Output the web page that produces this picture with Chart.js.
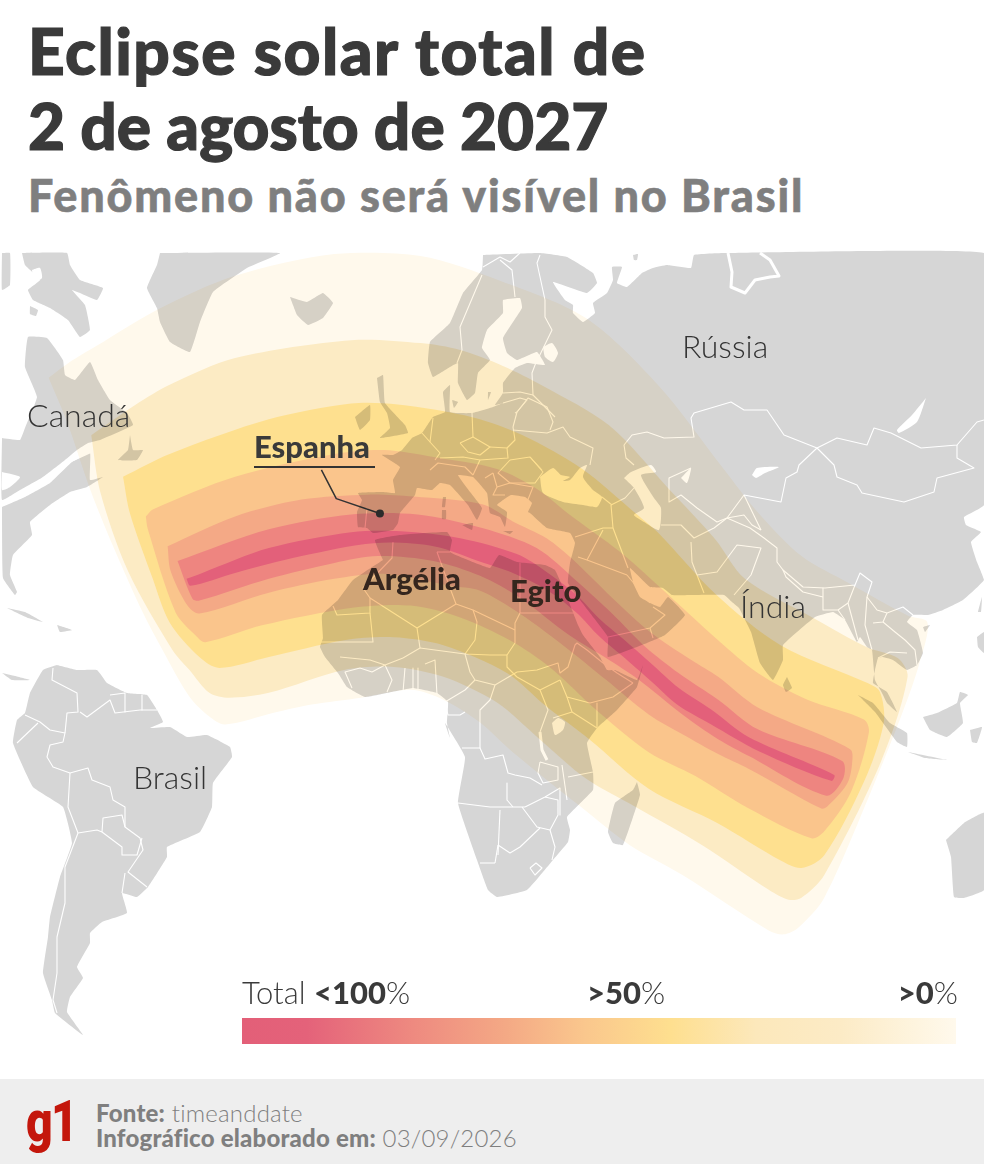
<!DOCTYPE html>
<html lang="pt-BR">
<head>
<meta charset="utf-8">
<title>Eclipse solar total de 2 de agosto de 2027</title>
<script src="https://cdn.jsdelivr.net/npm/chart.js@4"></script>
<style>
    html, body { margin: 0; padding: 0; background: #fff; }
    body { position: relative; width: 984px; height: 1164px; overflow: hidden; font-family: Lato, sans-serif; color: #3a3a3a; }
    .t { position: absolute; white-space: nowrap; line-height: 1; }
    #title { left: 28px; top: 13px; font-size: 64px; font-weight: 900; line-height: 75px; -webkit-text-stroke: 1.2px #3a3a3a; }
    #title span { display: block; }
    #title .one { letter-spacing: 1.5px; }
    #sub { left: 28px; top: 173px; font-size: 45px; font-weight: 900; letter-spacing: 1.8px; color: #7f7f7f; -webkit-text-stroke: .6px #7f7f7f; }
    canvas { position: absolute; left: 0; top: 248px; }
    #bandCanvas { mix-blend-mode: multiply; }
    .c { font-size: 32px; font-weight: 300; color: #333; }
    .b { font-size: 31px; font-weight: 900; color: #35261e; }
    #rule { position: absolute; left: 254px; top: 466px; width: 121px; height: 1.5px; background: #333; }
    #bar { position: absolute; left: 242px; top: 1018px; width: 714px; height: 26px;
        background: linear-gradient(90deg, #e35f78 0%, #e4627a 9%, #ee8a80 24%, #f4a985 37%, #fac78d 48%, #fedf8f 60%, #fce8bb 72%, #fcebc6 84%, #fff9ec 100%); }
    .l { font-size: 31px; font-weight: 300; color: #3a3a3a; top: 977px; }
    .l b { font-weight: 900; }
    #foot { position: absolute; left: 0; top: 1079px; width: 984px; height: 85px; background: #eeeeee; }
    #g1 { left: 26px; top: 1092px; font-family: Roboto, sans-serif; font-size: 58px; font-weight: 900; color: #c4170c; letter-spacing: -2px; transform: scaleX(.8); transform-origin: left top; }
    .f { left: 96px; font-size: 24px; font-weight: 300; letter-spacing: .2px; color: #7f7f7f; }
    .f b { font-weight: 900; }
</style>
</head>
<body>
<div class="t" id="title"><span class="one">Eclipse solar total de</span><span>2 de agosto de 2027</span></div>
<div class="t" id="sub">Fenômeno não será visível no Brasil</div>

<canvas id="landCanvas" width="984" height="830"></canvas>
<canvas id="bandCanvas" width="984" height="830"></canvas>

<div class="t c" style="left:682px;top:330px">Rússia</div>
<div class="t c" style="left:27px;top:399px">Canadá</div>
<div class="t c" style="left:740px;top:590px">Índia</div>
<div class="t c" style="left:133px;top:761px">Brasil</div>
<div class="t b" style="left:254px;top:431px;color:#3a3a3a">Espanha</div>
<div id="rule"></div>
<div class="t b" style="left:363px;top:563px">Argélia</div>
<div class="t b" style="left:510px;top:575px">Egito</div>

<div class="t l" style="left:242px"><span>Total</span> <b>&lt;100</b>%</div>
<div class="t l" style="left:587px"><b>&gt;50</b>%</div>
<div class="t l" style="right:26px"><b>&gt;0</b>%</div>
<div id="bar"></div>

<div id="foot"></div>
<div class="t" id="g1">g1</div>
<div class="t f" style="top:1101px"><b>Fonte:</b> timeanddate</div>
<div class="t f" style="top:1126px"><b>Infográfico elaborado em:</b> 03/09/2026</div>

<script>
/* ================= MAP DATA (map x, map y) ================= */
const eurasia = [[483,255],[540,253],[567,257],[593,273],[597,283],[587,293],[553,282],[565,300],[573,305],[573,313],[583,322],[595,313],[593,303],[607,293],[613,280],[612,267],[622,267],[617,283],[627,287],[642,273],[653,268],[667,265],[691,268],[694,255],[725,253],[984,253],[984,505],[964,517],[966,525],[981,532],[971,542],[977,562],[984,580],[963,600],[943,610],[928,615],[913,615],[907,622],[917,630],[923,653],[917,665],[907,670],[893,660],[883,657],[878,658],[875,670],[873,683],[887,692],[897,712],[887,703],[882,693],[875,680],[872,650],[867,647],[860,637],[857,642],[853,635],[845,620],[833,612],[815,617],[783,645],[783,660],[773,680],[760,663],[751,632],[739,608],[732,602],[724,595],[693,595],[672,595],[663,588],[650,587],[630,568],[634,585],[640,597],[650,603],[660,607],[668,597],[685,615],[665,635],[647,643],[608,657],[608,637],[590,613],[580,600],[568,583],[570,563],[575,543],[570,533],[547,528],[530,513],[528,512],[532,503],[525,497],[511,495],[503,500],[497,505],[507,512],[505,527],[500,517],[490,513],[487,493],[473,477],[458,475],[467,488],[482,508],[477,520],[468,505],[450,485],[440,483],[432,490],[417,488],[415,495],[400,513],[398,523],[393,530],[373,533],[367,528],[358,527],[357,512],[362,500],[358,493],[383,492],[395,493],[393,480],[400,467],[382,455],[393,455],[402,450],[412,438],[422,433],[433,417],[445,412],[443,392],[450,385],[450,412],[472,413],[493,407],[503,403],[495,405],[503,393],[503,383],[515,368],[527,363],[545,365],[537,352],[517,360],[507,353],[503,338],[522,308],[520,298],[503,300],[503,313],[487,330],[482,348],[490,360],[478,373],[475,393],[467,400],[458,383],[458,363],[450,367],[433,377],[428,363],[430,342],[450,323],[463,293],[482,270]];
const africa = [[383,560],[375,540],[400,535],[447,532],[452,540],[450,552],[463,558],[490,568],[499,555],[517,562],[545,565],[555,570],[567,597],[578,625],[583,635],[600,657],[607,670],[615,670],[637,680],[643,665],[637,687],[617,710],[597,728],[587,743],[593,772],[593,790],[567,817],[570,830],[568,842],[553,860],[527,890],[497,897],[488,890],[477,860],[458,803],[465,757],[445,723],[450,738],[447,723],[448,702],[437,693],[413,688],[387,693],[365,697],[347,687],[338,673],[325,657],[320,647],[323,638],[322,615],[338,600],[353,580]];
const southAmerica = [[57,665],[43,670],[30,693],[25,713],[17,720],[13,743],[33,787],[63,807],[72,843],[60,877],[50,917],[48,937],[43,973],[52,1000],[55,1013],[83,1035],[67,1012],[70,997],[83,978],[77,967],[90,943],[90,933],[102,922],[127,913],[122,893],[137,897],[148,887],[167,857],[167,847],[200,832],[212,807],[213,783],[232,757],[230,747],[207,735],[187,737],[170,727],[150,728],[163,722],[157,710],[147,695],[127,693],[107,683],[97,670],[77,670]];
const canadaEast = [[2,438],[20,440],[25,428],[37,397],[25,367],[28,337],[47,338],[63,360],[65,375],[75,380],[90,362],[98,380],[110,400],[127,413],[133,425],[100,440],[88,443],[77,450],[65,460],[43,477],[20,490],[2,500]];
const usaEast = [[2,507],[25,497],[50,483],[72,462],[90,453],[90,480],[103,477],[87,487],[70,492],[50,505],[30,522],[32,535],[13,555],[10,575],[17,592],[15,595],[3,578]];
const baffin = [[22,253],[67,253],[70,265],[80,280],[103,288],[97,300],[80,293],[72,290],[85,305],[90,330],[80,337],[68,320],[50,308],[33,300],[28,290],[40,280],[25,265]];
const arcticIsles = [[2,253],[10,253],[10,285],[2,290]];
const arcticSpot = [[30,306],[38,310],[36,316],[30,314]];
const newfoundland = [[130,435],[128,450],[118,460],[137,460],[143,450],[133,450]];
const greenland = [[160,253],[280,253],[247,268],[213,292],[200,322],[190,352],[170,342],[160,322],[157,308],[147,288],[157,265]];
const iceland = [[290,297],[307,302],[323,293],[333,303],[323,318],[308,325],[297,315],[293,305]];
const ireland = [[355,417],[370,405],[370,420],[360,430]];
const britain = [[377,378],[383,375],[385,403],[405,425],[408,433],[380,438],[390,428],[387,413],[380,402]];
const denmarkIsle = [[452,400],[458,402],[454,408]];
const gotland = [[488,392],[491,392],[488,400]];
const corsica = [[443,497],[446,497],[445,507],[442,507]];
const sardinia = [[442,510],[446,510],[446,519],[442,519]];
const sicily = [[462,525],[473,523],[472,530]];
const crete = [[503,531],[513,531],[510,534]];
const kolguev = [[633,255],[638,254],[637,260],[634,260]];
const madagascar = [[637,782],[640,795],[623,845],[613,843],[608,832],[615,803],[633,790]];
const sriLanka = [[787,677],[792,688],[786,692],[783,685]];
const sumatra = [[858,695],[873,703],[890,723],[907,733],[907,747],[897,742],[875,712]];
const java = [[908,752],[947,760],[925,758]];
const borneo = [[923,717],[937,713],[957,703],[960,692],[968,695],[960,703],[963,723],[947,737],[930,730]];
const sulawesi = [[970,730],[982,727],[977,743],[972,742]];
const australia = [[946,840],[964,823],[984,813],[984,890],[964,898],[954,897],[951,857]];
const hainan = [[923,627],[930,625],[925,632]];
const taiwan = [[978,612],[982,597],[981,612]];
const philippines = [[977,637],[984,632],[984,653],[978,647]];
const cuba = [[7,608],[25,612],[43,622],[28,618]];
const hispaniola = [[57,625],[72,630],[60,632]];
const centralAm = [[2,673],[15,676],[30,680],[12,680]];
const landShapes = [eurasia, africa, southAmerica, canadaEast, usaEast, baffin, arcticIsles, arcticSpot, newfoundland, greenland, iceland, ireland, britain, denmarkIsle, gotland, corsica, sardinia, sicily, crete, kolguev, madagascar, sriLanka, sumatra, java, borneo, sulawesi, australia, hainan, taiwan, philippines, cuba, hispaniola, centralAm];

/* inland water */
const blackSea = [[540,477],[553,468],[561,475],[570,477],[563,481],[570,480],[580,468],[587,465],[583,477],[593,490],[602,497],[597,507],[583,505],[563,502],[543,493]];
const caspian = [[624,478],[631,472],[651,465],[656,472],[641,475],[654,498],[661,508],[659,530],[644,522],[634,515],[644,508],[634,488]];
const baikal = [[926,398],[917,422],[899,433],[897,430],[912,415]];
const balkhash = [[752,475],[757,468],[779,467],[765,473],[756,478]];
const aral = [[681,478],[691,468],[687,483]];
const ladoga = [[543,347],[552,343],[558,353],[553,362],[545,357]];
const victoria = [[552,723],[558,718],[565,722],[563,730],[555,735]];
const baffinLake = [[32,270],[40,268],[42,278],[34,282]];
const greatLake = [[2,472],[20,477],[10,487],[2,490]];
const inlandWater = [blackSea, caspian, baikal, balkhash, aral, ladoga, victoria, baffinLake, greatLake];

/* country lines */
const borderLines = [
    /* South America */
    [[53,668],[52,680],[77,693],[78,712],[67,713],[65,733]],
    [[80,712],[87,717],[110,700],[115,713],[140,710],[157,710]],
    [[110,695],[125,693],[125,712]], [[142,695],[142,710]],
    [[25,715],[40,722],[50,730],[65,733],[63,742],[50,745],[47,757],[53,767],[70,773]],
    [[17,743],[38,723]],
    [[70,773],[88,768],[92,780],[110,787],[113,800],[125,807],[125,827],[140,838],[143,850],[128,872],[147,887]],
    [[70,773],[68,807],[78,833]],
    [[78,833],[97,830],[102,832],[103,818],[122,815],[125,827]],
    [[102,832],[122,847],[122,855],[137,855],[142,838]],
    [[78,833],[65,867],[65,903],[57,937],[57,973],[53,1000],[57,1013]],
    [[125,873],[122,893]],
    /* West and North Africa */
    [[393,542],[392,558],[363,588],[370,598],[370,613],[337,615],[333,606]],
    [[370,598],[417,628],[420,648],[403,658]],
    [[370,613],[373,642],[320,642]],
    [[417,628],[456,604],[473,610],[477,622],[475,640],[465,654]],
    [[437,552],[450,588],[456,604]],
    [[450,552],[437,552]],
    [[520,563],[520,613],[577,613]],
    [[473,610],[515,630]], [[520,613],[515,623],[515,643],[507,655],[507,667],[517,677]],
    [[403,658],[385,665],[370,660],[340,657]],
    [[420,648],[450,652],[465,654],[490,655],[507,655]],
    [[385,665],[372,672],[360,668],[345,672],[352,688]],
    [[385,665],[392,680],[387,692]], [[405,668],[403,692]], [[413,668],[413,692]], [[418,668],[418,690]],
    [[425,664],[435,660],[437,695]],
    [[465,654],[470,672],[475,680],[495,685],[517,672]],
    [[475,680],[465,690],[445,702],[448,715],[460,715],[465,712]],
    /* East Africa */
    [[517,672],[537,670],[558,663],[560,673],[568,667],[575,645],[577,643],[587,650],[603,663]],
    [[603,663],[617,673],[633,683]], [[560,680],[567,697],[590,703],[613,697],[633,683]],
    [[517,677],[540,690],[560,680]], [[597,703],[597,727]],
    [[567,697],[572,712],[553,718]],
    [[495,685],[490,700],[480,710],[480,748]],
    [[540,690],[548,710],[540,732]],
    [[572,712],[597,728]],
    /* Southern Africa */
    [[462,748],[480,748],[485,759],[503,755],[508,773],[515,775],[530,778],[542,785]],
    [[458,803],[490,807],[513,807],[525,807]],
    [[507,783],[507,800],[513,807]], [[525,807],[545,797],[560,788]],
    [[522,807],[537,827],[550,830],[558,815],[558,800],[545,797]],
    [[500,810],[498,855]], [[498,845],[510,853],[520,847],[540,828]],
    [[495,863],[480,863]], [[498,845],[495,863]],
    [[550,830],[555,847],[552,860]],
    [[530,868],[536,863],[542,868],[535,875],[530,868]],
    [[562,765],[567,800]], [[540,762],[538,773],[543,783],[558,780],[558,767],[540,762]],
    [[568,777],[593,772]],
    [[560,788],[560,815]],
    /* Europe */
    [[540,255],[537,263],[545,300],[545,317],[552,330],[535,365],[532,373],[533,395],[555,417]],
    [[483,267],[500,257],[510,262],[520,253]], [[500,260],[512,270],[515,297]],
    [[482,275],[460,327],[462,350],[457,363]],
    [[503,393],[520,392],[533,395]], [[503,403],[520,398],[527,400],[517,412],[515,413]],
    [[517,412],[528,398],[547,407],[553,422],[550,430]],
    [[513,427],[517,412]], [[513,427],[515,440],[507,448]],
    [[513,430],[547,433],[563,427],[570,437],[593,448],[590,465]],
    [[472,413],[473,437]], [[433,418],[430,442],[440,453],[435,460]],
    [[422,433],[430,442]],
    [[460,443],[473,437],[490,447],[480,455],[468,452],[460,443]],
    [[490,447],[507,448],[508,458],[480,460],[463,457],[440,458]],
    [[510,460],[530,457],[543,472],[535,483],[510,483],[498,473],[510,460]],
    [[530,457],[542,470]],
    [[430,470],[438,463],[465,467],[473,475]],
    [[480,460],[473,475]],
    [[493,473],[497,487],[493,495],[505,495]], [[510,483],[533,487],[527,502]],
    [[485,478],[493,473]], [[497,487],[510,483]],
    [[367,508],[365,528]],
    /* Middle East */
    [[575,537],[603,528],[613,528],[611,505]],
    [[613,528],[628,568]],
    [[587,560],[627,575]], [[578,557],[587,560],[603,530]],
    [[627,575],[650,603]], [[608,637],[650,628],[665,615],[653,607]],
    [[650,628],[653,638]],
    [[611,505],[625,498],[634,488]], [[602,497],[612,505]],
    /* Central Asia */
    [[624,445],[632,435],[647,432],[664,438],[694,437],[691,418],[694,413],[731,402],[744,410],[767,410],[784,435],[817,448]],
    [[624,445],[626,458],[634,465]],
    [[669,478],[669,502],[681,495],[697,508],[717,522],[727,518],[744,495],[781,502],[786,478],[797,472],[799,465],[817,448]],
    [[669,478],[691,468]],
    [[661,525],[681,525],[694,538],[714,528],[727,518]],
    [[691,542],[692,562],[697,575],[704,593]],
    [[697,575],[717,572],[737,545],[761,548],[751,575],[734,595]],
    [[727,518],[750,528],[764,538],[777,548],[777,562],[783,570],[803,587],[825,588],[855,585],[860,573],[872,582],[867,597],[877,610],[887,613],[903,607],[913,615]],
    [[744,495],[761,530]], [[727,518],[744,515],[752,525],[761,530]],
    [[783,570],[786,577],[803,592],[823,597]],
    [[823,588],[823,610],[838,610],[845,620]], [[838,610],[848,603],[855,585]],
    [[848,603],[858,640]],
    [[867,597],[865,625],[872,650]], [[873,623],[883,622],[887,613]],
    [[883,622],[895,632],[905,640],[915,650],[917,665]],
    [[878,658],[890,652],[907,653]],
    /* Mongolia */
    [[817,448],[837,438],[867,445],[874,428],[891,433],[921,448],[957,445],[977,422],[984,420]],
    [[817,448],[834,465],[837,477],[857,485],[862,493],[904,502],[934,492],[937,478],[974,468],[957,458],[957,445]]
];
/* thick white strips: arctic inlets, St. Lawrence, rift lakes */
const waterStrips = [
    [[728,253],[732,272],[731,287],[745,293],[755,280],[770,277],[779,276],[770,260],[760,253]],
    [[2,505],[25,493],[48,480],[68,462],[90,452]],
    [[540,732],[542,750],[547,760]]
];

/* ================= ECLIPSE BANDS, outer to inner ================= */
const bandPale = [[45,375],[65,360],[93,343],[157,305],[233,272],[333,250],[420,252],[500,277],[587,315],[660,383],[724,465],[761,512],[804,555],[851,582],[911,615],[931,622],[923,663],[907,710],[874,793],[827,900],[801,930],[786,937],[771,933],[684,877],[631,847],[580,807],[513,753],[480,723],[443,700],[410,690],[360,698],[310,705],[273,713],[223,725],[207,717],[187,697],[160,650],[140,612],[110,545],[87,488],[63,418]];
const bandCream = [[88,433],[133,402],[167,382],[233,355],[350,337],[420,340],[460,347],[503,363],[543,383],[610,423],[671,488],[717,538],[747,578],[815,617],[870,647],[901,658],[911,677],[884,763],[827,877],[804,900],[791,902],[771,892],[704,847],[636,808],[587,780],[540,740],[497,703],[443,677],[393,667],[343,670],[267,693],[227,698],[207,693],[187,670],[170,650],[125,570],[97,490]];
const bandYellow = [[120,475],[167,452],[267,417],[350,401],[397,402],[473,415],[523,433],[583,467],[637,512],[660,532],[717,593],[783,645],[870,683],[883,692],[887,723],[867,783],[827,857],[804,870],[784,863],[720,825],[650,790],[590,740],[547,707],[507,673],[443,645],[393,637],[343,640],[267,657],[217,668],[197,657],[167,622],[150,578],[127,512]];
const bandOrange = [[143,515],[150,508],[233,475],[333,452],[383,448],[433,455],[497,467],[537,487],[570,513],[620,550],[663,588],[720,640],[760,673],[810,700],[867,720],[872,733],[854,793],[827,833],[814,840],[751,810],[697,777],[650,753],[600,713],[550,667],[510,640],[460,617],[410,605],[353,607],[260,625],[203,642],[193,635],[173,612],[145,528]];
const bandSalmon = [[165,545],[233,515],[300,498],[367,493],[413,495],[483,503],[513,520],[547,537],[573,558],[613,597],[653,633],[693,660],[720,677],[760,708],[853,750],[855,765],[850,785],[830,808],[824,810],[751,770],[720,755],[684,735],[650,715],[607,680],[570,650],[520,613],[480,590],[450,585],[383,573],[333,578],[267,592],[197,613],[185,605],[168,570]];
const bandPink = [[175,560],[267,528],[350,513],[417,513],[483,527],[537,547],[577,580],[613,613],[647,647],[680,673],[720,700],[760,730],[845,762],[846,780],[829,797],[751,757],[720,740],[684,715],[640,680],[607,658],[570,635],[520,597],[480,575],[433,560],[377,555],[333,562],[267,578],[197,600],[190,598]];
const bandCore = [[184,578],[200,572],[267,547],[350,531],[400,530],[460,537],[517,553],[547,571],[577,594],[600,618],[627,641],[653,664],[680,688],[713,710],[751,738],[837,776],[834,782],[761,752],[713,725],[680,706],[653,682],[627,659],[600,636],[577,612],[547,589],[513,572],[484,562],[433,545],[373,542],[300,555],[233,572],[188,585]];
const bandShapes = [bandPale, bandCream, bandYellow, bandOrange, bandSalmon, bandPink, bandCore];
const bandColors = ["#fff9ec", "#fcebc4", "#fee08f", "#fac58c", "#f4a986", "#ee8580", "#e3607a"];

/* Espanha pointer */
const pointerLine = [[320,468],[335,497],[379,512]];

/* ================= DRAW ================= */
const toPoints = list => list.map(p => ({ x: p[0], y: p[1] }));

function shapeDataset(list, color, tension) {
    return {
        data: toPoints(list.concat([list[0]])),
        showLine: true,
        fill: "shape",
        backgroundColor: color,
        borderColor: color,
        borderWidth: 0,
        tension: tension || 0,
        pointRadius: 0
    };
}

function lineDataset(list, color, width) {
    return {
        data: toPoints(list),
        showLine: true,
        fill: false,
        borderColor: color,
        borderWidth: width,
        borderJoinStyle: "round",
        pointRadius: 0
    };
}

function mapOptions() {
    return {
        responsive: false,
        animation: false,
        events: [],
        layout: { padding: 0 },
        plugins: { legend: { display: false }, tooltip: { enabled: false } },
        scales: {
            x: { type: "linear", min: 0, max: 984, display: false },
            y: { type: "linear", min: 248, max: 1078, reverse: true, display: false }
        }
    };
}

/* first dataset ends up on top */
new Chart(document.getElementById("landCanvas"), {
    type: "scatter",
    data: {
        datasets: [
            ...borderLines.map(l => lineDataset(l, "#ffffff", 1.1)),
            ...waterStrips.map(l => lineDataset(l, "#ffffff", 3)),
            ...inlandWater.map(s => shapeDataset(s, "#ffffff", 0.2)),
            ...landShapes.map(s => shapeDataset(s, "#d6d6d6", 0.1))
        ]
    },
    options: mapOptions()
});

const pointerSet = lineDataset(pointerLine, "#333333", 1.5);
pointerSet.pointRadius = [0, 0, 4];
pointerSet.pointBackgroundColor = "#333333";
pointerSet.pointBorderWidth = 0;

new Chart(document.getElementById("bandCanvas"), {
    type: "scatter",
    data: {
        datasets: [
            pointerSet,
            ...bandShapes.map((s, i) => shapeDataset(s, bandColors[i], 0.3)).reverse()
        ]
    },
    options: mapOptions()
});
</script>
</body>
</html>
